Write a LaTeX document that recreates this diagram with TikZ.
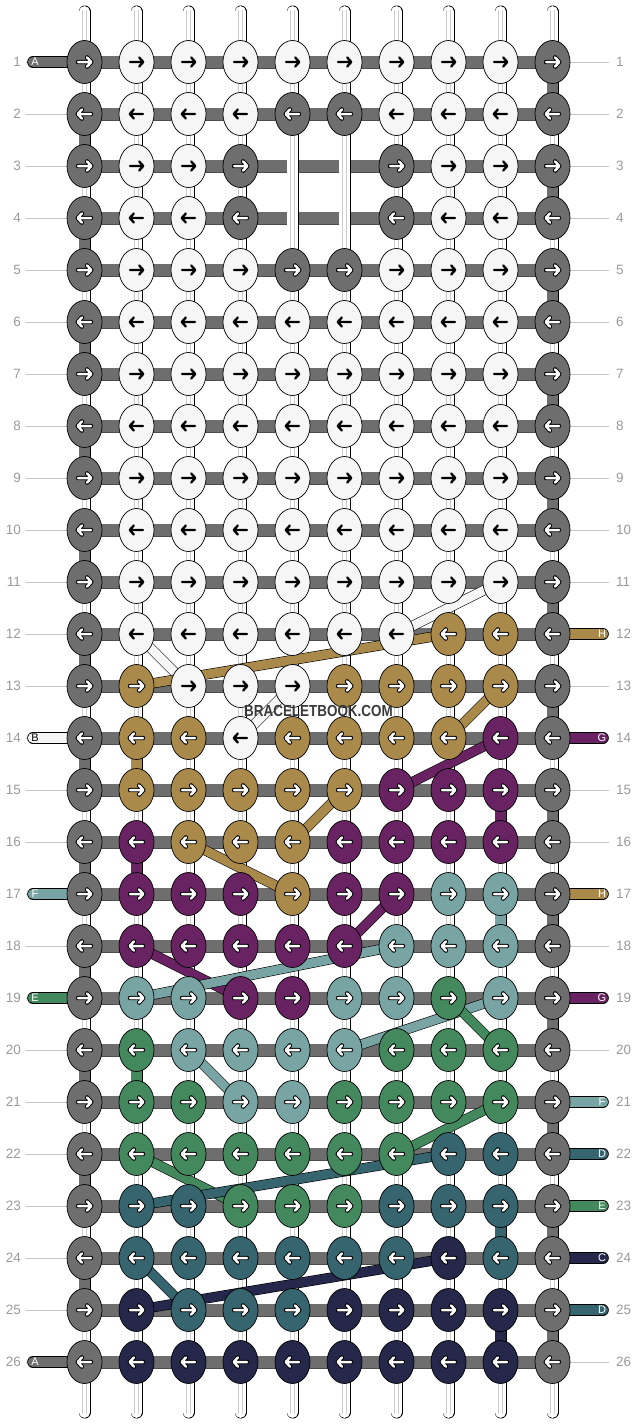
\documentclass[tikz,border=0pt]{standalone}
\usepackage{fontspec}
\setmainfont{Liberation Sans}
\usepackage{xstring}
\usetikzlibrary{arrows.meta, positioning, shapes.geometric, calc}

\definecolor{cA}{HTML}{6E6E6E}
\definecolor{cB}{HTML}{F6F6F6}
\definecolor{cC}{HTML}{25284A}
\definecolor{cD}{HTML}{36646F}
\definecolor{cE}{HTML}{43895D}
\definecolor{cF}{HTML}{78A4A4}
\definecolor{cG}{HTML}{692363}
\definecolor{cH}{HTML}{A98A4B}
\definecolor{numgray}{HTML}{9A9A9A}
\definecolor{tickgray}{HTML}{C4C4C4}
\definecolor{markgray}{HTML}{3A3A3A}

\pgfdeclarelayer{tubes}
\pgfdeclarelayer{bars}
\pgfdeclarelayer{strands}
\pgfsetlayers{tubes,bars,strands,main}

\tikzset{
  knot/.style = {
    ellipse, draw, line width=0.7pt, minimum width=35pt, minimum height=43pt, inner sep=0pt
  },
  tube/.style = {draw=black, line width=0.6pt, double=white, double distance=10.8pt},
  core/.style = {draw=gray!40, line width=0.5pt, double=white, double distance=3.4pt},
  bar/.style = {draw=black!70, line width=0.4pt, double=cA, double distance=12.2pt},
  seg/.style = {draw=black, line width=0.6pt, double=#1, double distance=10.8pt},
  strand/.style = {draw=black, line width=0.6pt, double=#1, double distance=9pt},
  stub/.style = {draw=black, line width=0.6pt, double=#1, double distance=10.4pt, line cap=round},
  tick/.style = {draw=tickgray, line width=0.9pt},
  rownum/.style = {text=numgray, font=\fontsize{13.5}{13.5}\selectfont, inner sep=0pt},
  stubtxt/.style = {font=\fontsize{11}{11}\selectfont, inner sep=0pt, text=#1},
  logo/.style = {text=markgray, font=\bfseries\fontsize{16}{16}\selectfont, inner sep=0pt},
  pics/darrow/.style = {code = {
    \draw[black, line width=2.3pt, line cap=round, line join=round]
      (-6.5,0) -- (6.5,0) (2.6,-4.6) -- (6.8,0) -- (2.6,4.6);
  }},
  pics/larrow/.style = {code = {
    \draw[black, line width=4.4pt, line cap=round, line join=round]
      (-6.5,0) -- (6.5,0) (2.6,-4.6) -- (6.8,0) -- (2.6,4.6);
    \draw[white, line width=2.5pt, line cap=round, line join=round]
      (-6.5,0) -- (6.5,0) (2.6,-4.6) -- (6.8,0) -- (2.6,4.6);
  }},
}

\begin{document}
\begin{tikzpicture}[x=1pt, y=-1pt]
  \useasboundingbox (0,0) rectangle (636,1424);

  % knots, row by row (letter = string colour, - = no knot)
  \foreach \r/\pat in {1/ABBBBBBBBA, 2/ABBBAABBBA, 3/ABBA--ABBA, 4/ABBA--ABBA,
      5/ABBBAABBBA, 6/ABBBBBBBBA, 7/ABBBBBBBBA, 8/ABBBBBBBBA, 9/ABBBBBBBBA,
      10/ABBBBBBBBA, 11/ABBBBBBBBA, 12/ABBBBBBHHA, 13/AHBBBHHHHA, 14/AHHBHHHHGA,
      15/AHHHHHGGGA, 16/AGHHHGGGGA, 17/AGGGHGGFFA, 18/AGGGGGFFFA, 19/AFFGGFFEFA,
      20/AEFFFFEEEA, 21/AEEFFEEEEA, 22/AEEEEEEDDA, 23/ADDEEEDDDA, 24/ADDDDDDCDA,
      25/ACDDDCCCCA, 26/ACCCCCCCCA}{
    \foreach \c in {1,...,10}{
      \StrChar{\pat}{\c}[\kc]
      \if\kc-\else
        \node[knot, fill=c\kc] (k-\r-\c) at ({84.5+52*(\c-1)}, {62+52*(\r-1)}) {};
        \ifodd\r \def\ax{1}\else \def\ax{-1}\fi
        \if\kc B
          \pic[xscale=\ax] at (k-\r-\c.center) {darrow};
        \else
          \pic[xscale=\ax] at (k-\r-\c.center) {larrow};
        \fi
      \fi
    }
  }

  % vertical strings
  \begin{pgfonlayer}{tubes}
    \foreach \c in {1,...,10}{
      \draw[tube, line cap=round] ({84.5+52*(\c-1)}, 11.5) -- ({84.5+52*(\c-1)}, 1412.5);
      \draw[core] ({84.5+52*(\c-1)}, 10) -- ({84.5+52*(\c-1)}, 1414);
    }
    % row ticks and numbers
    \foreach \r in {1,...,26}{
      \coordinate (tl-\r) at (26, {62+52*(\r-1)});
      \coordinate (tr-\r) at (609, {62+52*(\r-1)});
      \draw[tick] (tl-\r) -- (k-\r-1.west);
      \draw[tick] (k-\r-10.east) -- (tr-\r);
      \node[rownum, anchor=east] (nl-\r) at (21, {62+52*(\r-1)}) {\r};
      \node[rownum, anchor=west] (nr-\r) at (616, {62+52*(\r-1)}) {\r};
    }
  \end{pgfonlayer}

  % horizontal string and its turns
  \begin{pgfonlayer}{bars}
    \foreach \r in {1,...,26}
      \draw[bar] (k-\r-1.center) -- (k-\r-10.center);
    \foreach \r in {2,4,...,24}{
      \pgfmathtruncatemacro\rn{\r+1}
      \draw[seg=cA] (k-\r-1.center) -- (k-\rn-1.center);
    }
    \foreach \r in {1,3,...,25}{
      \pgfmathtruncatemacro\rn{\r+1}
      \draw[seg=cA] (k-\r-10.center) -- (k-\rn-10.center);
    }
    \foreach \r/\cl in {14/cH, 16/cG, 20/cE}{
      \pgfmathtruncatemacro\rn{\r+1}
      \draw[seg=\cl] (k-\r-2.center) -- (k-\rn-2.center);
    }
    \foreach \r/\cl in {15/cG, 17/cF, 23/cD, 25/cC}{
      \pgfmathtruncatemacro\rn{\r+1}
      \draw[seg=\cl] (k-\r-9.center) -- (k-\rn-9.center);
    }
  \end{pgfonlayer}

  % strings moving to another column, and new strings at the sides
  \begin{pgfonlayer}{strands}
    % long float over the untied strings in rows 3 and 4
    \foreach \r in {3,4}
      \draw[bar] (k-\r-4.center) -- (k-\r-7.center);
    % strings lying over the bar where no knot is tied
    \foreach \c in {5,6}{
      \draw[tube] (k-2-\c.south) -- (k-5-\c.north);
      \draw[core] (k-2-\c.south) -- (k-5-\c.north);
    }

    \foreach \cl/\ra/\ca/\rb/\cb in {cB/12/2/13/3, cB/11/9/12/7, cB/13/5/14/4,
        cH/13/2/12/8, cH/13/9/14/8, cH/15/6/16/5, cH/16/3/17/5,
        cG/14/9/15/7, cG/17/7/18/6, cG/18/2/19/4,
        cF/19/2/18/7, cF/19/9/20/6, cF/20/3/21/4,
        cE/19/8/20/9, cE/21/9/22/7, cE/22/2/23/4,
        cD/23/2/22/8, cD/24/2/25/3,
        cC/25/2/24/8}
      \draw[strand=\cl] (k-\ra-\ca.center) -- (k-\rb-\cb.center);

    \foreach \r/\s/\tc in {1/A/white, 14/B/black, 17/F/white, 19/E/white, 26/A/white}{
      \coordinate (sl-\r) at (33, {62+52*(\r-1)});
      \draw[stub=c\s] (sl-\r) -- (k-\r-1.center);
      \node[stubtxt=\tc] (ll-\r) at (35, {62+52*(\r-1)}) {\s};
    }
    \foreach \r/\s in {12/H, 14/G, 17/H, 19/G, 21/F, 22/D, 23/E, 24/C, 25/D}{
      \coordinate (sr-\r) at (603, {62+52*(\r-1)});
      \draw[stub=c\s] (k-\r-10.center) -- (sr-\r);
      \node[stubtxt=white] (lr-\r) at (602, {62+52*(\r-1)}) {\s};
    }
  \end{pgfonlayer}

  \node[logo] (mark) at (318.5, 711) {\scalebox{0.84}[1]{BRACELETBOOK.COM}};
\end{tikzpicture}
\end{document}
